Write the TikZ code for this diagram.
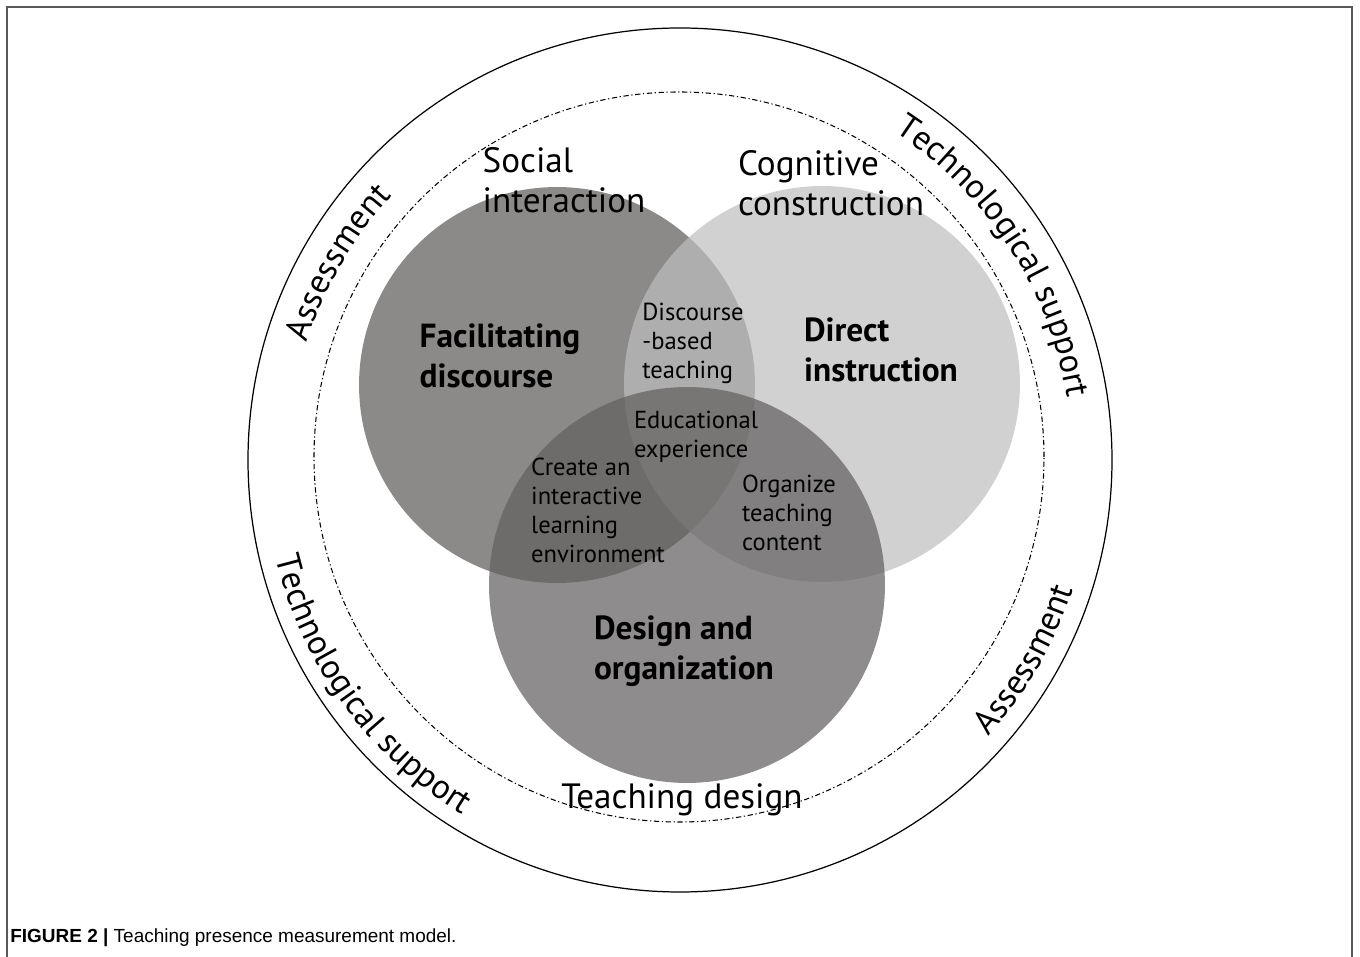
\documentclass[tikz,border=0pt]{standalone}
\usepackage{fontspec}
\setmainfont{PT Sans}
\newfontfamily\capfont{Liberation Sans}
\usetikzlibrary{decorations.text}

\definecolor{facilgray}{RGB}{140,138,137}
\definecolor{directgray}{RGB}{190,190,190}
\definecolor{designgray}{RGB}{100,98,97}

\begin{document}
\begin{tikzpicture}[x=0.02cm, y=0.02cm,
                    vennnode/.style={circle, minimum size=7.92cm, inner sep=0pt},
                    bignode/.style={align=left, inner sep=0pt, font=\fontsize{20}{22.8}\selectfont},
                    boldnode/.style={align=left, inner sep=0pt, font=\fontsize{19}{22.8}\selectfont\bfseries},
                    smallnode/.style={align=left, inner sep=0pt, font=\fontsize{14}{16.5}\selectfont},
                    ringlabel/.style={decorate, decoration={text along path, text align=center,
                        text={|\fontsize{19.5}{21}\selectfont|#1}}},
                ]
                    \useasboundingbox (0,0) rectangle (1360,957);

                    %Frame
                    \draw[black!65, line width=0.8pt] (7,-10) -- (7,950) -- (1352,950) -- (1352,-10);

                    %Rings
                    \coordinate (ctr) at (680,497);
                    \draw[line width=0.7pt] (ctr) circle[radius=432];
                    \draw[line width=0.6pt, dash pattern=on 3pt off 1.5pt on 0.7pt off 1.5pt] (679,500) circle[radius=365];

                    %Circles
                    \node[vennnode, fill=facilgray](facil) at (557,572) {};
                    \node[vennnode, fill=directgray, fill opacity=0.7](direct) at (822,573) {};
                    \node[vennnode, fill=designgray, fill opacity=0.73](design) at (687,372) {};

                    %Labels
                    \node[bignode](social) at (564,777) {Social\\interaction};
                    \node[bignode](cognitive) at (831,774) {Cognitive\\construction};
                    \node[boldnode](facilitating) at (500,601) {Facilitating\\discourse};
                    \node[boldnode](instruction) at (881,607) {Direct\\instruction};
                    \node[boldnode](organization) at (684,306) {Design and\\organization};
                    \node[smallnode](discourse) at (693,614) {Discourse\\-based\\teaching};
                    \node[smallnode](experience) at (696,520) {Educational\\experience};
                    \node[smallnode](environment) at (598,447) {Create an\\interactive\\learning\\environment};
                    \node[smallnode](content) at (789,444) {Organize\\teaching\\content};
                    \node[bignode](teaching) at (682,157) {Teaching design};

                    %Ring texts
                    \path[ringlabel={Assessment}] (ctr) ++(176:391) arc[start angle=176, end angle=124, radius=391];
                    \path[ringlabel={Technological support}] (ctr) ++(63:392) arc[start angle=63, end angle=3, radius=392];
                    \path[ringlabel={Technological support}] (ctr) ++(186:416) arc[start angle=186, end angle=246, radius=416];
                    \path[ringlabel={Assessment}] (ctr) ++(-56:414) arc[start angle=-56, end angle=-4, radius=414];

                    %Caption
                    \node[anchor=west, inner sep=0pt, font=\capfont\fontsize{10.8}{12}\selectfont](caption) at (10,19)
                        {\textbf{FIGURE 2 |} Teaching presence measurement model.};
                \end{tikzpicture}
\end{document}
